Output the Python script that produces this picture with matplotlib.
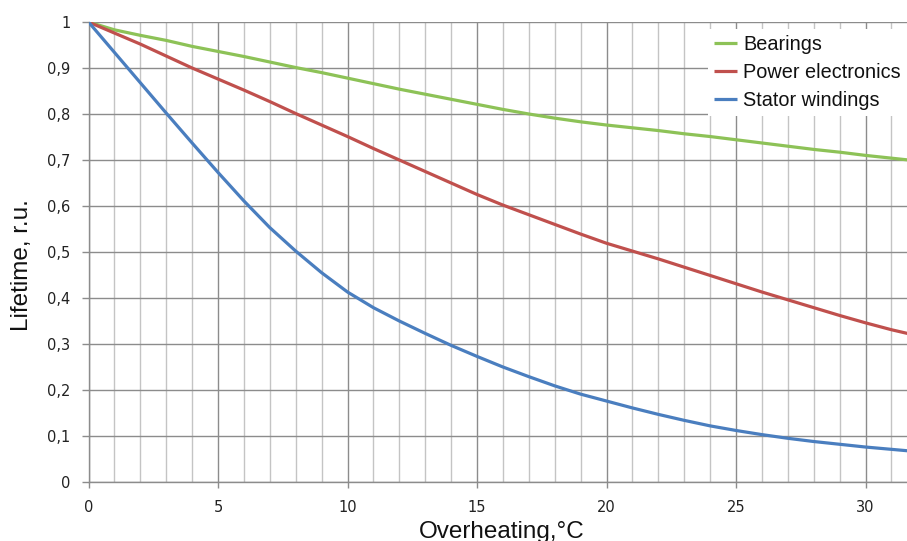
import matplotlib
matplotlib.use("Agg")
import matplotlib.pyplot as plt
import numpy as np

# ---- data ----
overheating = list(range(0, 33))
bearings = [1.0, 0.983, 0.971, 0.960, 0.947, 0.936, 0.925, 0.913, 0.901, 0.890,
            0.878, 0.866, 0.854, 0.843, 0.832, 0.821, 0.810, 0.800, 0.791, 0.783,
            0.776, 0.770, 0.764, 0.757, 0.751, 0.744, 0.737, 0.730, 0.723, 0.717,
            0.710, 0.704, 0.698]
power_electronics = [1.0, 0.976, 0.952, 0.926, 0.900, 0.876, 0.852, 0.827, 0.801, 0.776,
                     0.751, 0.725, 0.700, 0.675, 0.650, 0.625, 0.602, 0.581, 0.560, 0.539,
                     0.519, 0.502, 0.485, 0.467, 0.449, 0.431, 0.413, 0.396, 0.379, 0.362,
                     0.346, 0.331, 0.318]
stator_windings = [1.0, 0.934, 0.868, 0.802, 0.737, 0.673, 0.611, 0.553, 0.502, 0.455,
                   0.413, 0.379, 0.350, 0.323, 0.297, 0.273, 0.250, 0.229, 0.209, 0.191,
                   0.176, 0.161, 0.147, 0.134, 0.122, 0.112, 0.103, 0.095, 0.088, 0.082,
                   0.076, 0.071, 0.066]
series_names = ["Bearings", "Power electronics", "Stator windings"]
series_colors = ["#8DC257", "#C0504D", "#4A7EBF"]
yticks = [0, 0.1, 0.2, 0.3, 0.4, 0.5, 0.6, 0.7, 0.8, 0.9, 1.0]
ytick_labels = ["0", "0,1", "0,2", "0,3", "0,4", "0,5", "0,6", "0,7", "0,8", "0,9", "1"]
xticks = [0, 5, 10, 15, 20, 25, 30]
xlabel = "Overheating,\u00b0C"
ylabel = "Lifetime, r.u."

W, H = 907, 541
fig = plt.figure(figsize=(W / 100, H / 100), dpi=100)
ax = fig.add_axes([88.5 / W, 1 - 482 / H, (W - 88.5) / W, (482 - 22) / H])

for vals, name, col in zip([bearings, power_electronics, stator_windings], series_names, series_colors):
    ax.plot(overheating, vals, color=col, lw=2.3, label=name, solid_capstyle="butt",
            solid_joinstyle="round", zorder=3)

ax.set_xlim(0, 31.6)
ax.set_ylim(0, 1)
ax.set_xticks(xticks)
ax.set_xticks(np.arange(0, 32, 1), minor=True)
ax.set_yticks(yticks)
ax.set_yticklabels(ytick_labels)

grid_dark = "#8C8C8C"
grid_light = "#C4C4C4"
ax.grid(which="minor", axis="x", color=grid_light, lw=1.0, zorder=1)
ax.grid(which="major", axis="x", color=grid_dark, lw=1.0, zorder=1)
ax.grid(which="major", axis="y", color=grid_dark, lw=1.0, zorder=1)
ax.set_axisbelow(True)

for s in ["top", "right"]:
    ax.spines[s].set_visible(False)
for s in ["left", "bottom"]:
    ax.spines[s].set_color(grid_dark)
    ax.spines[s].set_linewidth(1.0)

ax.tick_params(axis="x", which="major", direction="out", length=4, width=1, color=grid_dark,
               pad=9, labelsize=10.5, labelcolor="#222222")
ax.tick_params(axis="x", which="minor", length=0)
ax.tick_params(axis="y", which="major", direction="out", length=5, width=1, color=grid_dark,
               pad=8, labelsize=10.5, labelcolor="#222222")
for lab in ax.get_xticklabels() + ax.get_yticklabels():
    lab.set_family("DejaVu Sans")

fig.text(502 / W, 3 / H, xlabel, ha="center", va="baseline", fontsize=17.5,
         family="Liberation Sans", color="#111111")
fig.text(22 / W, 1 - 265 / H, ylabel, ha="center", va="center", rotation=90, fontsize=17.5,
         family="Liberation Sans", color="#111111")

leg = ax.legend(loc="upper right", bbox_to_anchor=(1.0, 1 - 29 / H), bbox_transform=fig.transFigure,
                frameon=True, fancybox=False, framealpha=1, facecolor="white", edgecolor="none",
                borderaxespad=0, borderpad=0.3, handlelength=1.2, handletextpad=0.3,
                labelspacing=0.45, prop={"family": "Liberation Sans", "size": 14.3})
for t in leg.get_texts():
    t.set_color("#111111")
leg.set_zorder(5)

fig.savefig("out.png", dpi=100)
